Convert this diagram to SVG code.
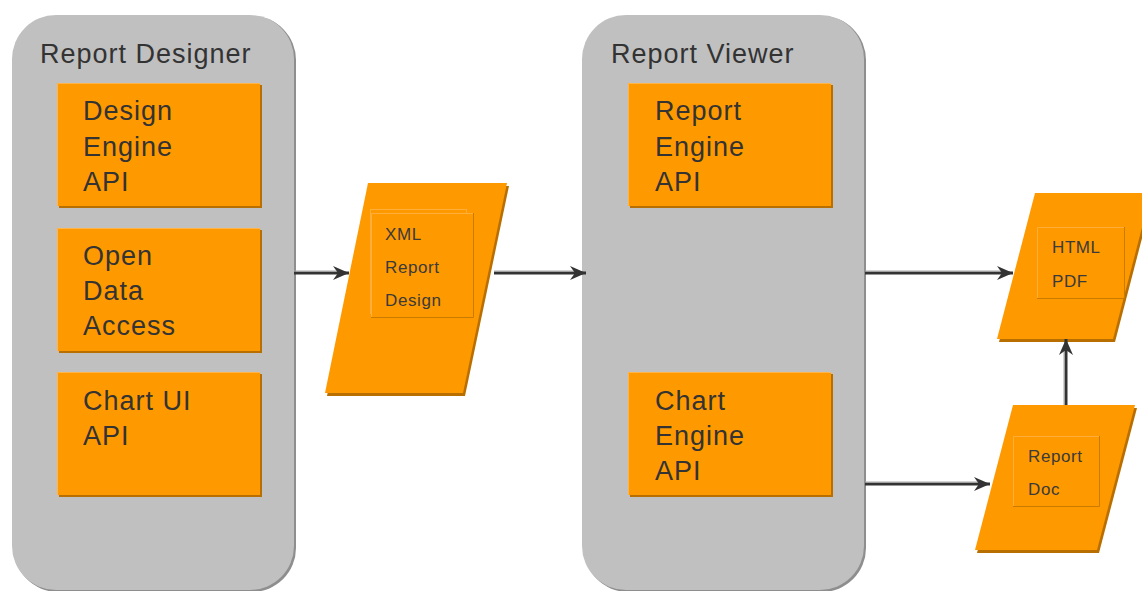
<svg xmlns="http://www.w3.org/2000/svg" width="1142" height="591" viewBox="0 0 1142 591">
<style>
.cont{fill:#c0c0c0}
.contsh{fill:#8e8e8e}
.box{fill:#ff9900}
.boxsh{fill:#b86f00}
.hl{fill:none;stroke:#ffb54a;stroke-width:1}
.inner{fill:none;stroke:#ffae3a;stroke-width:1}
.innersh{fill:none;stroke:#c97b00;stroke-width:1}
.title{font-family:"Liberation Sans",Arial,sans-serif;font-size:27px;letter-spacing:1px;fill:#333}
.lbl{font-family:"Liberation Sans",Arial,sans-serif;font-size:27px;letter-spacing:1px;fill:#333}
.sm{font-family:"Liberation Sans",Arial,sans-serif;font-size:17px;letter-spacing:0.6px;fill:#3a3a3a}
.ln{stroke:#333;stroke-width:3;fill:none}
.lnh{stroke:#a8a8a8;stroke-width:1;fill:none}
</style>
<defs>
<marker id="ah" markerWidth="18" markerHeight="14" refX="16" refY="7" orient="auto" markerUnits="userSpaceOnUse">
<path d="M0,0 L16,7 L0,14 L5,7 Z" fill="#333"/>
</marker>
</defs>
<rect width="1142" height="591" fill="#fff"/>

<g id="report-designer">
<rect class="contsh" x="14" y="16" width="282" height="576" rx="44"/>
<rect class="cont" x="12" y="15" width="282" height="575" rx="44"/>
<text class="title" x="40" y="63">Report Designer</text>
</g>

<g id="design-engine-api">
<rect class="boxsh" x="59" y="85" width="203" height="123"/>
<rect class="box" x="57" y="83" width="203" height="123"/>
<path class="hl" d="M57.5,206 V83.5 H260"/>
<text class="lbl" x="83" y="120">Design</text>
<text class="lbl" x="83" y="156">Engine</text>
<text class="lbl" x="83" y="191">API</text>
</g>

<g id="open-data-access">
<rect class="boxsh" x="59" y="230" width="203" height="123"/>
<rect class="box" x="57" y="228" width="203" height="123"/>
<path class="hl" d="M57.5,351 V228.5 H260"/>
<text class="lbl" x="83" y="265">Open</text>
<text class="lbl" x="83" y="300">Data</text>
<text class="lbl" x="83" y="335">Access</text>
</g>

<g id="chart-ui-api">
<rect class="boxsh" x="59" y="374" width="203" height="123"/>
<rect class="box" x="57" y="372" width="203" height="123"/>
<path class="hl" d="M57.5,495 V372.5 H260"/>
<text class="lbl" x="83" y="410">Chart UI</text>
<text class="lbl" x="83" y="445">API</text>
</g>

<g id="report-viewer">
<rect class="contsh" x="584" y="16" width="282" height="576" rx="44"/>
<rect class="cont" x="582" y="15" width="282" height="575" rx="44"/>
<text class="title" x="611" y="63">Report Viewer</text>
</g>

<g id="report-engine-api">
<rect class="boxsh" x="630" y="85" width="203" height="123"/>
<rect class="box" x="628" y="83" width="203" height="123"/>
<path class="hl" d="M628.5,206 V83.5 H831"/>
<text class="lbl" x="655" y="120">Report</text>
<text class="lbl" x="655" y="156">Engine</text>
<text class="lbl" x="655" y="191">API</text>
</g>

<g id="chart-engine-api">
<rect class="boxsh" x="630" y="374" width="203" height="123"/>
<rect class="box" x="628" y="372" width="203" height="123"/>
<path class="hl" d="M628.5,495 V372.5 H831"/>
<text class="lbl" x="655" y="410">Chart</text>
<text class="lbl" x="655" y="445">Engine</text>
<text class="lbl" x="655" y="480">API</text>
</g>

<g id="xml-report-design">
<polygon class="boxsh" points="370,186 509,186 465,396 327,396"/>
<polygon class="box" points="368,183 507,183 463,393 325,393"/>
<rect class="inner" x="370.5" y="209.5" width="96" height="104"/>
<rect class="box" x="371" y="213" width="102" height="104"/>
<path class="inner" d="M371.5,317 V213.5 H473"/>
<path class="innersh" d="M473.5,213 V317.5 H371"/>
<text class="sm" x="385" y="240">XML</text>
<text class="sm" x="385" y="273">Report</text>
<text class="sm" x="385" y="306">Design</text>
</g>

<g id="html-pdf">
<polygon class="boxsh" points="1037,196 1153,196 1115,342 999,342"/>
<polygon class="box" points="1035,193 1151,193 1113,339 997,339"/>
<path class="inner" d="M1037.5,298 V227.5 H1124"/>
<path class="innersh" d="M1124.5,227 V298.5 H1037"/>
<text class="sm" x="1052" y="253">HTML</text>
<text class="sm" x="1052" y="287">PDF</text>
</g>

<g id="report-doc">
<polygon class="boxsh" points="1015,408 1137,408 1099,553 977,553"/>
<polygon class="box" points="1013,405 1135,405 1097,550 975,550"/>
<path class="inner" d="M1013.5,506 V436.5 H1099"/>
<path class="innersh" d="M1099.5,436 V506.5 H1013"/>
<text class="sm" x="1028" y="462">Report</text>
<text class="sm" x="1028" y="495">Doc</text>
</g>

<g id="connectors">
<line class="ln" x1="294" y1="273" x2="349" y2="273" marker-end="url(#ah)"/>
<line class="lnh" x1="294" y1="271" x2="336" y2="271"/>
<line class="ln" x1="494" y1="273" x2="586" y2="273" marker-end="url(#ah)"/>
<line class="lnh" x1="494" y1="271" x2="573" y2="271"/>
<line class="ln" x1="865" y1="273" x2="1013" y2="273" marker-end="url(#ah)"/>
<line class="lnh" x1="865" y1="271" x2="1000" y2="271"/>
<line class="ln" x1="865" y1="484" x2="990" y2="484" marker-end="url(#ah)"/>
<line class="lnh" x1="865" y1="482" x2="977" y2="482"/>
<line class="ln" x1="1066" y1="405" x2="1066" y2="339" marker-end="url(#ah)"/>
<line class="lnh" x1="1064" y1="405" x2="1064" y2="352"/>
</g>
</svg>
